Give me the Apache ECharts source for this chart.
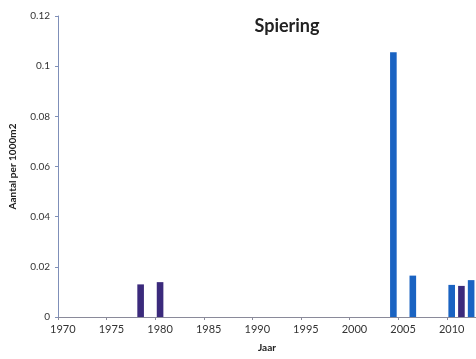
<!DOCTYPE html>
<html>
<head>
<meta charset="utf-8">
<script src="https://cdn.jsdelivr.net/npm/echarts@6/dist/echarts.min.js"></script>
<style>html,body{margin:0;padding:0;background:#fff}#c{width:476px;height:359px}</style>
</head>
<body>
<div id="c"></div>
<script>
// Years 1970..2012
var years = [];
for (var y = 1970; y <= 2012; y++) years.push(String(y));
// Values (Aantal per 1000m2)
var purpleYears = ['1978', '1980', '2011'];
var purpleValues = [0.013, 0.0139, 0.0124];
var blueYears = ['2004', '2006', '2010', '2012'];
var blueValues = [0.1055, 0.0165, 0.0128, 0.0147];
var yTicks = [0, 0.02, 0.04, 0.06, 0.08, 0.1, 0.12];

function toSeries(ys, vs) {
  return years.map(function (yr) {
    var i = ys.indexOf(yr);
    return i >= 0 ? vs[i] : null;
  });
}

var chart = echarts.init(document.getElementById('c'), null, {renderer: 'canvas'});
var font = 'Lato, "Open Sans", sans-serif';
chart.setOption({
  animation: false,
  backgroundColor: '#fff',
  title: {
    text: 'Spiering', left: 282, top: 12, textAlign: 'center',
    textStyle: {fontFamily: font, fontSize: 18, fontWeight: 'bold', color: '#222'}
  },
  grid: {left: 58, right: 0, top: 16, bottom: 42, containLabel: false, outerBoundsMode: 'none'},
  xAxis: {
    type: 'category', data: years, boundaryGap: true,
    name: 'Jaar', nameLocation: 'middle', nameGap: 26,
    nameTextStyle: {fontFamily: font, fontSize: 10, fontWeight: 'bold', color: '#222'},
    axisLine: {lineStyle: {color: '#8a8a9a', width: 1}},
    axisTick: {show: true, interval: 4, length: 3, alignWithLabel: false, lineStyle: {color: '#8a8a9a'}},
    axisLabel: {interval: 4, fontFamily: font, fontSize: 11, color: '#333', margin: 7},
    splitLine: {show: false}
  },
  yAxis: {
    type: 'value', min: 0, max: 0.12, interval: 0.02,
    name: 'Aantal per 1000m2', nameLocation: 'middle', nameGap: 40, nameRotate: 90,
    nameTextStyle: {fontFamily: font, fontSize: 10, fontWeight: 'bold', color: '#222'},
    axisLine: {show: true, lineStyle: {color: '#7f8fb8', width: 1}},
    axisTick: {show: true, length: 3, lineStyle: {color: '#7f8fb8'}},
    axisLabel: {fontFamily: font, fontSize: 10, color: '#333', margin: 8,
      formatter: function (v) { return String(+v.toFixed(2)); }},
    splitLine: {show: false}
  },
  series: [
    {type: 'bar', name: 'purple', data: toSeries(purpleYears, purpleValues),
     barWidth: '68%', barGap: '-100%', itemStyle: {color: '#3b2a7c'}},
    {type: 'bar', name: 'blue', data: toSeries(blueYears, blueValues),
     barWidth: '68%', barGap: '-100%', itemStyle: {color: '#1a63c2'}}
  ]
});
</script>
</body>
</html>
